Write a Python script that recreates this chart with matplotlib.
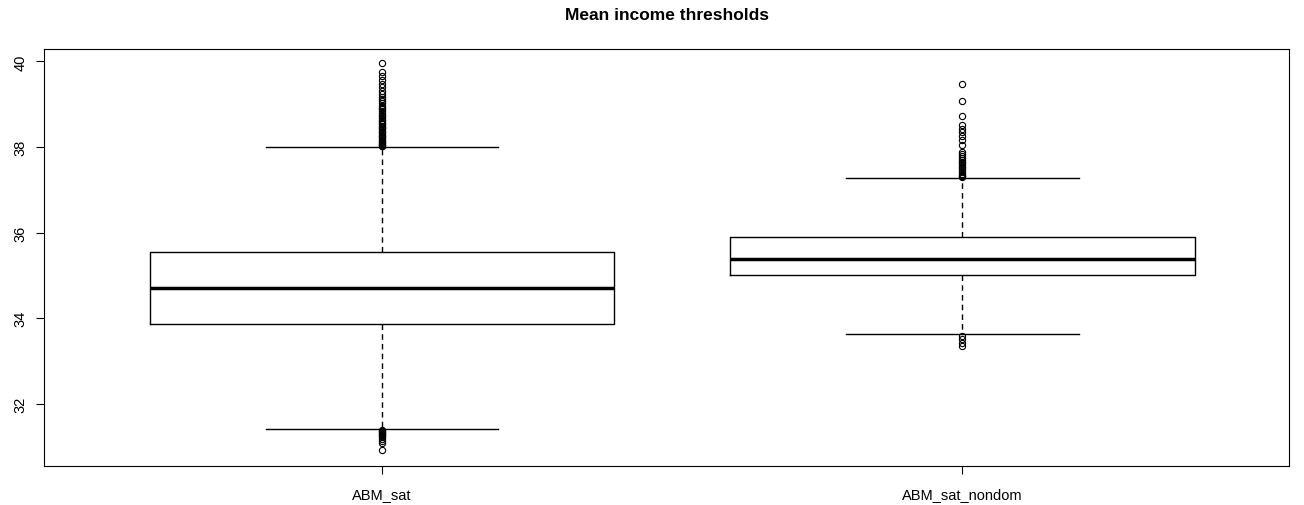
import matplotlib
matplotlib.use("Agg")
import matplotlib.pyplot as plt

plt.rcParams['font.family'] = ['Liberation Sans', 'DejaVu Sans']

labels = ["ABM_sat", "ABM_sat_nondom"]
q1 = [33.86, 35.01]
med = [34.70, 35.38]
q3 = [35.54, 35.89]
whislo = [31.40, 33.63]
whishi = [38.01, 37.27]
fliers_sat = [39.96, 39.75, 39.66, 39.57, 39.47, 39.40, 39.31, 39.24, 39.18,
              39.12, 39.07, 39.02, 38.97, 38.92, 38.88, 38.84, 38.80, 38.76,
              38.72, 38.68, 38.64, 38.60, 38.57, 38.54, 38.50, 38.47, 38.44,
              38.41, 38.38, 38.35, 38.32, 38.29, 38.26, 38.23, 38.20, 38.17,
              38.14, 38.11, 38.09, 38.07, 38.05, 38.03, 38.02,
              31.38, 31.36, 31.34, 31.31, 31.29, 31.27, 31.24, 31.21, 31.17,
              31.13, 31.07, 30.91]
fliers_nondom = [39.47, 39.08, 38.72, 38.51, 38.42, 38.35, 38.26, 38.16, 38.05,
                 37.88, 37.83, 37.78, 37.74, 37.70, 37.66, 37.62, 37.58, 37.54,
                 37.50, 37.46, 37.42, 37.38, 37.35, 37.32, 37.29,
                 33.58, 33.51, 33.42, 33.35]
fliers = [fliers_sat, fliers_nondom]

stats = []
for i in range(len(labels)):
    stats.append(dict(label=labels[i], q1=q1[i], med=med[i], q3=q3[i],
                      whislo=whislo[i], whishi=whishi[i], fliers=fliers[i]))

fig = plt.figure(figsize=(13.04, 5.06), dpi=100)
ax = fig.add_axes([0.0337, 0.077, 0.955, 0.824])

ax.bxp(stats, positions=[1, 2], widths=0.8, patch_artist=False,
       boxprops=dict(color="black", linewidth=1),
       medianprops=dict(color="black", linewidth=2.5),
       whiskerprops=dict(color="black", linewidth=1, linestyle=(0, (4, 3))),
       capprops=dict(color="black", linewidth=1),
       capwidths=0.4,
       flierprops=dict(marker="o", markerfacecolor="none",
                       markeredgecolor="black", markersize=4.5,
                       markeredgewidth=0.8))

ax.set_xlim(0.418, 2.563)
ax.set_ylim(30.54, 40.29)
ax.set_yticks([32, 34, 36, 38, 40])
ax.set_yticklabels(["32", "34", "36", "38", "40"], rotation=90, va="center")
ax.tick_params(axis="both", labelsize=10.5, length=6)
ax.tick_params(axis="x", pad=9)
ax.tick_params(axis="y", pad=6)
ax.set_title("Mean income thresholds", fontsize=12.5, fontweight="bold", pad=22)

fig.savefig("out.png", dpi=100)
